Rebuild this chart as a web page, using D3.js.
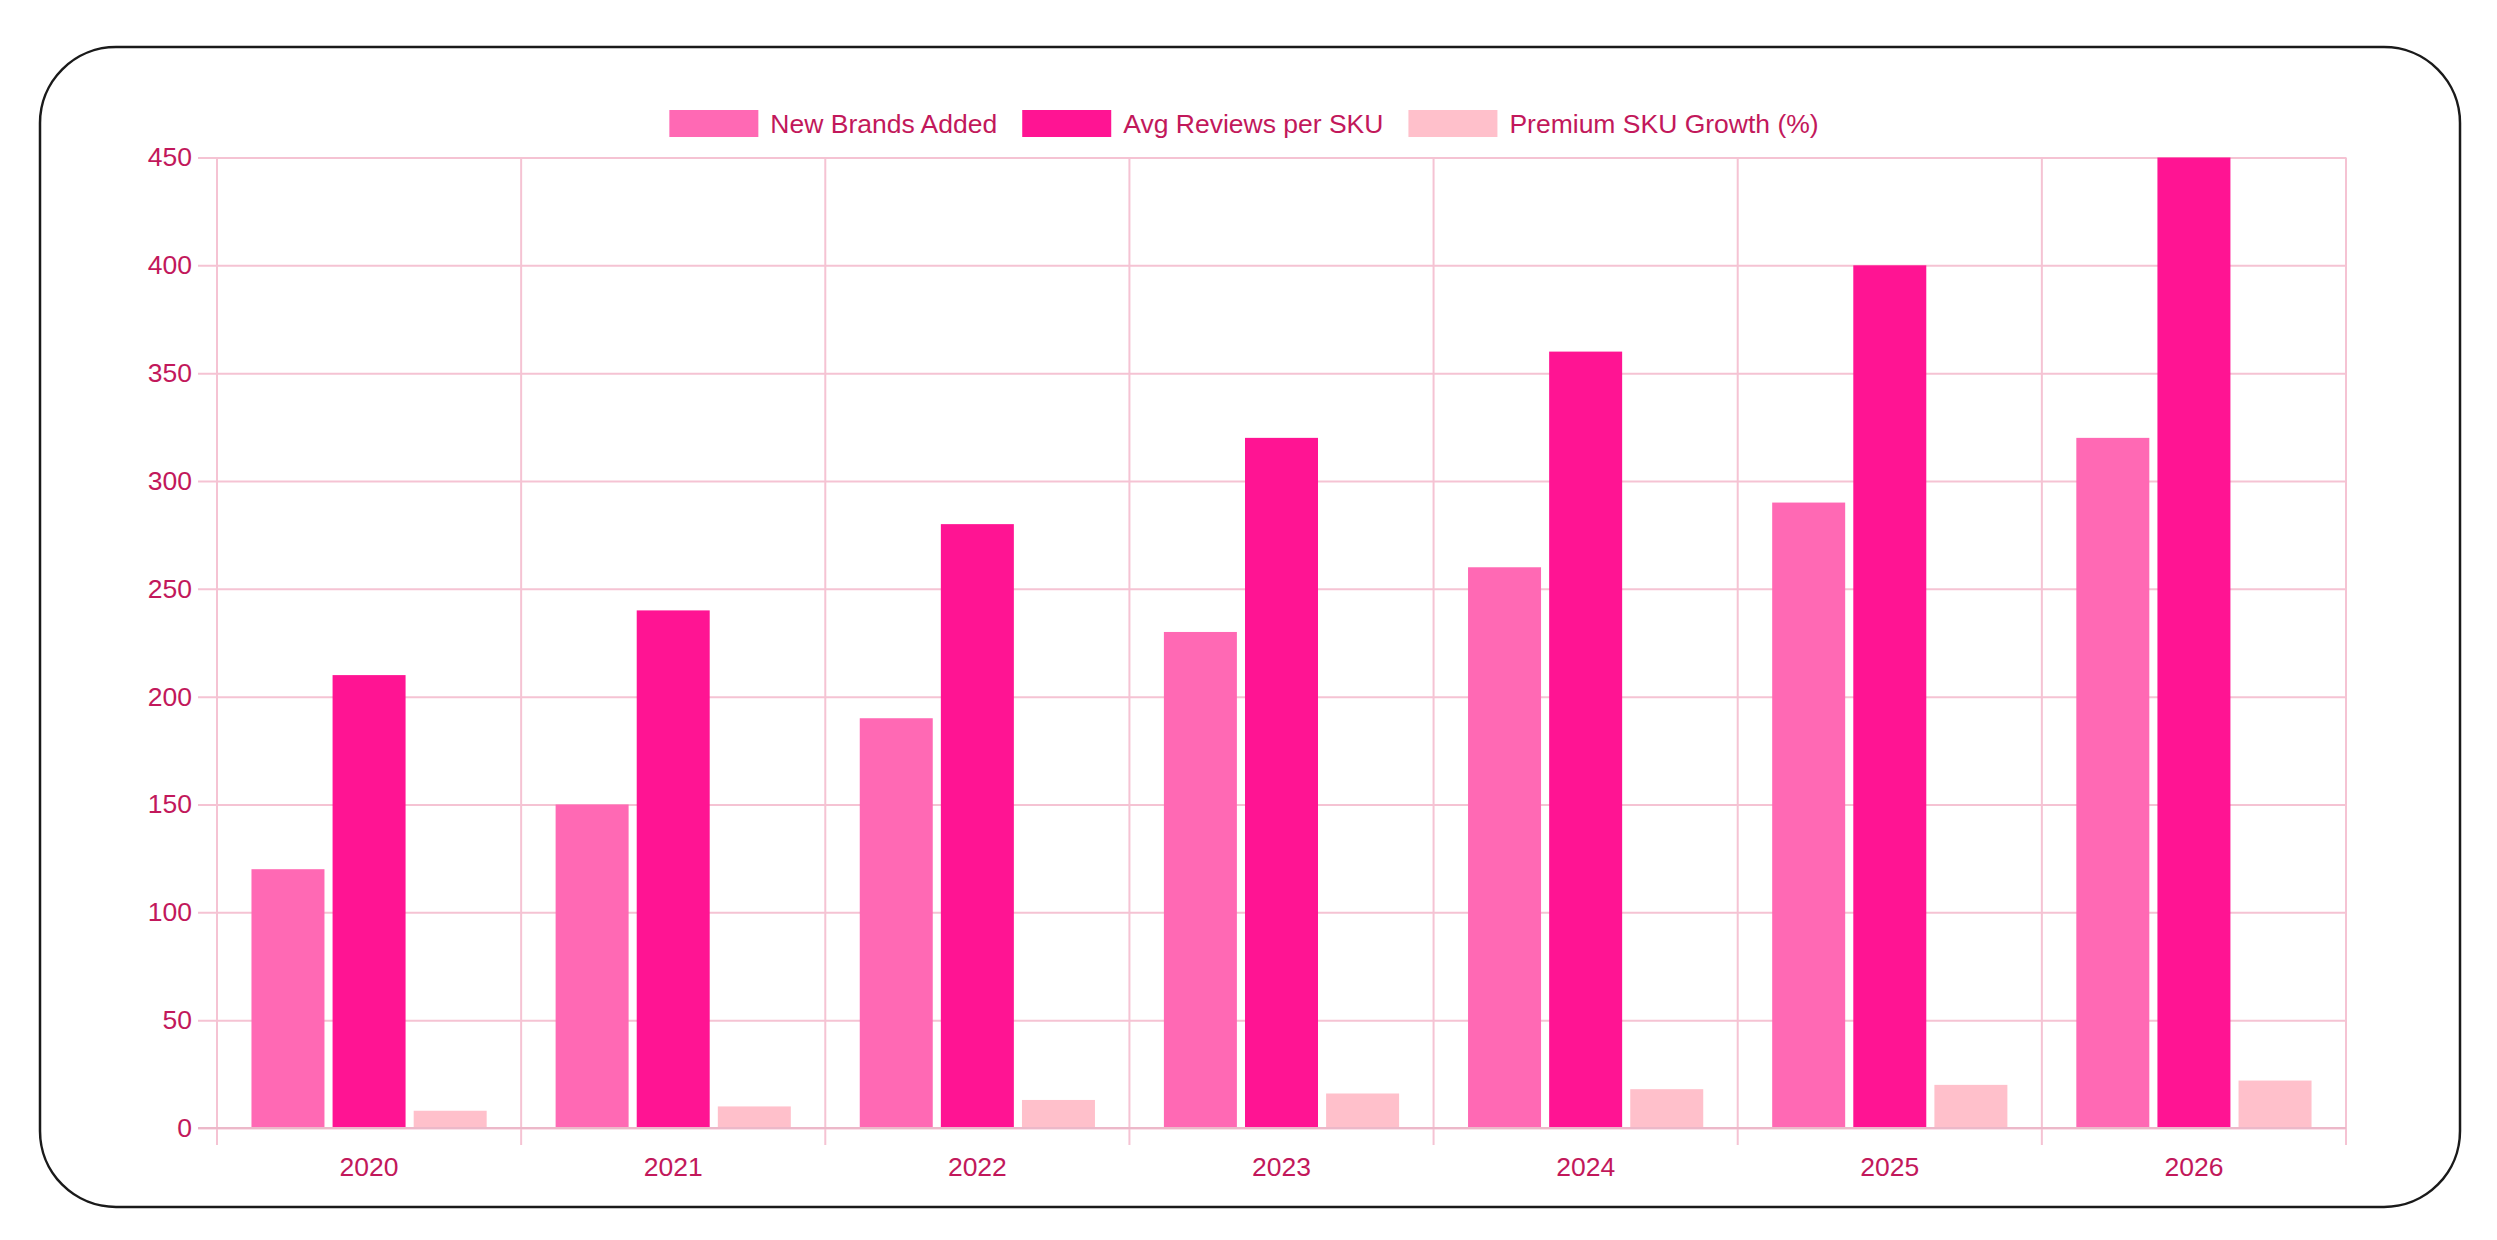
<!DOCTYPE html>
<html>
<head>
<meta charset="utf-8">
<script src="https://cdn.jsdelivr.net/npm/d3@7"></script>
<style>
  body { margin: 0; background: #fff; }
  svg { display: block; font-family: "Liberation Sans", Arial, sans-serif; }
</style>
</head>
<body>
<svg id="chart"></svg>
<script>
// Chart values.
const years = ["2020", "2021", "2022", "2023", "2024", "2025", "2026"];
const newBrands = [120, 150, 190, 230, 260, 290, 320];
const avgReviews = [210, 240, 280, 320, 360, 400, 450];
const premiumGrowth = [8, 10, 13, 16, 18, 20, 22];
const seriesNames = ["New Brands Added", "Avg Reviews per SKU", "Premium SKU Growth (%)"];
const seriesColors = ["#ff69b4", "#ff1493", "#ffc0cb"];
const yTicks = [0, 50, 100, 150, 200, 250, 300, 350, 400, 450];

const W = 2497, H = 1240;
const margin = { left: 217, right: W - 2346, top: 157.5, bottom: H - 1128 };
const textColor = "#c2185b";
const gridColor = "#f5c3d3";
const fontSize = "26.5px";

const svg = d3.select("#chart").attr("width", W).attr("height", H);

// Rounded outer frame.
svg.append("rect")
  .attr("x", 40).attr("y", 47)
  .attr("width", 2420).attr("height", 1160)
  .attr("rx", 76).attr("ry", 76)
  .attr("fill", "#fff")
  .attr("stroke", "#1a1a1a")
  .attr("stroke-width", 2.5);

const plotW = W - margin.left - margin.right;

const x = d3.scaleBand().domain(years).range([margin.left, W - margin.right]);
const y = d3.scaleLinear().domain([0, 450]).range([H - margin.bottom, margin.top]);

// Horizontal grid + y labels.
const yAxis = svg.append("g")
  .attr("transform", "translate(" + (W - margin.right) + ",0)")
  .call(d3.axisLeft(y).tickValues(yTicks).tickSize(plotW + 19).tickPadding(6));
yAxis.select(".domain").remove();
yAxis.selectAll(".tick line").attr("stroke", gridColor).attr("stroke-width", 2);
yAxis.selectAll(".tick text")
  .attr("fill", textColor).style("font-size", fontSize);

// Vertical grid lines at category boundaries.
const bounds = years.map(d => x(d)).concat([W - margin.right]);
svg.append("g").selectAll("line")
  .data(bounds)
  .enter()
  .append("line")
  .attr("x1", d => d).attr("x2", d => d)
  .attr("y1", margin.top).attr("y2", H - margin.bottom + 17)
  .attr("stroke", gridColor)
  .attr("stroke-width", 2);

// Bars: 80% of each category, 90% of each bar slot.
const groupW = x.bandwidth() * 0.8;
const slotW = groupW / seriesNames.length;
const barW = slotW * 0.9;
const allSeries = [newBrands, avgReviews, premiumGrowth];

allSeries.forEach(function(values, si) {
  svg.append("g").selectAll("rect")
    .data(values)
    .enter()
    .append("rect")
    .attr("x", (d, i) => x(years[i]) + x.bandwidth() * 0.1 + si * slotW + (slotW - barW) / 2)
    .attr("y", d => y(d))
    .attr("width", barW)
    .attr("height", d => y(0) - y(d))
    .attr("fill", seriesColors[si]);
});

// X axis labels.
const xAxis = svg.append("g")
  .attr("transform", "translate(0," + (H - margin.bottom) + ")")
  .call(d3.axisBottom(x).tickSize(0).tickPadding(29));
xAxis.select(".domain").remove();
xAxis.selectAll(".tick text")
  .attr("fill", textColor).style("font-size", fontSize);

// Baseline drawn on top of bars.
svg.append("line")
  .attr("x1", margin.left - 19).attr("x2", W - margin.right)
  .attr("y1", y(0)).attr("y2", y(0))
  .attr("stroke", "#ecb8c9").attr("stroke-width", 2);

// Legend, centered across the frame.
const legend = svg.append("g");
const items = legend.selectAll("g")
  .data(seriesNames)
  .enter()
  .append("g");
items.append("rect")
  .attr("width", 89).attr("height", 27)
  .attr("y", 110)
  .attr("fill", (d, i) => seriesColors[i]);
items.append("text")
  .attr("x", 101).attr("y", 123.5)
  .attr("dy", "0.35em")
  .attr("fill", textColor)
  .style("font-size", fontSize)
  .text(d => d);

let offsets = [], cur = 0;
items.each(function() {
  offsets.push(cur);
  const tw = d3.select(this).select("text").node().getComputedTextLength();
  cur += 101 + tw + 25;
});
const totalW = cur - 25;
const startX = 1244 - totalW / 2;
items.attr("transform", (d, i) => "translate(" + (startX + offsets[i]) + ",0)");
</script>
</body>
</html>
